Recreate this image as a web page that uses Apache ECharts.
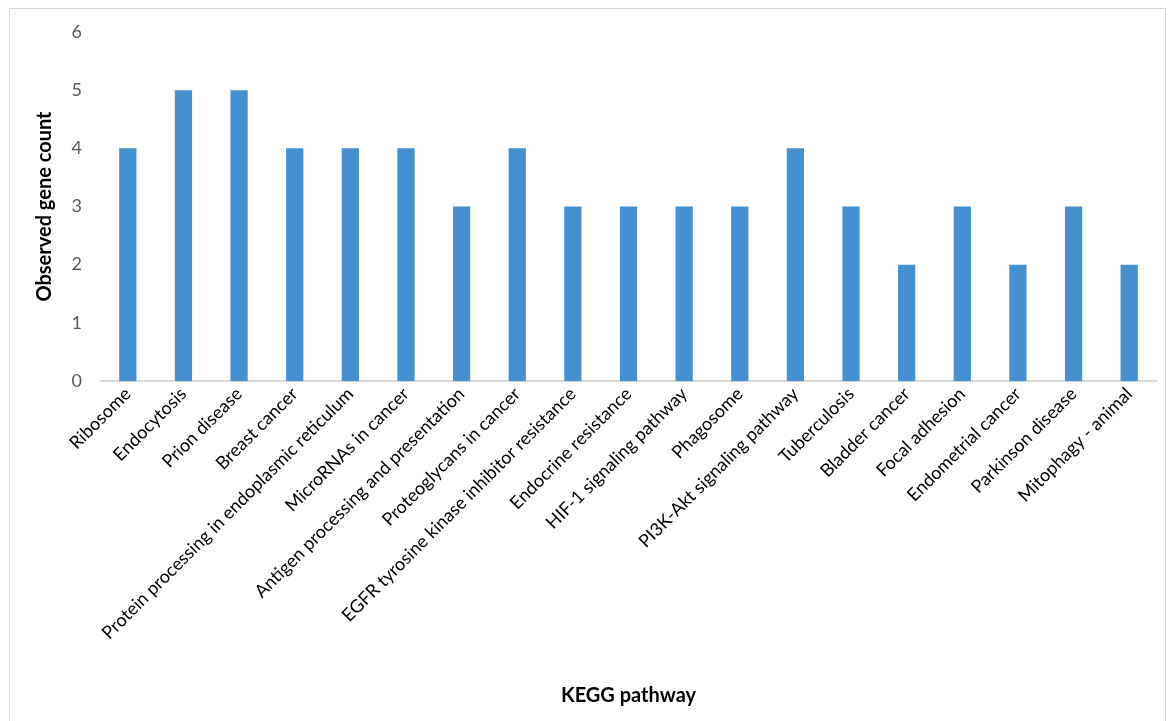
<!DOCTYPE html>
<html>
<head>
<meta charset="utf-8">
<script src="https://cdn.jsdelivr.net/npm/echarts@6/dist/echarts.min.js"></script>
<style>
  html, body { margin: 0; padding: 0; background: #fff; }
  #frame {
    position: absolute; left: 9px; top: 8px; width: 1157px; height: 720px;
    border: 1px solid #d9d9d9; box-sizing: border-box;
  }
  #chart { position: absolute; left: 0; top: 0; width: 1170px; height: 721px; }
</style>
</head>
<body>
<div id="frame"></div>
<div id="chart"></div>
<script>
// KEGG pathways and observed gene counts
const pathways = [
    'Ribosome', 'Endocytosis', 'Prion disease', 'Breast cancer',
    'Protein processing in endoplasmic reticulum', 'MicroRNAs in cancer',
    'Antigen processing and presentation', 'Proteoglycans in cancer',
    'EGFR tyrosine kinase inhibitor resistance', 'Endocrine resistance',
    'HIF-1 signaling pathway', 'Phagosome', 'PI3K-Akt signaling pathway',
    'Tuberculosis', 'Bladder cancer', 'Focal adhesion', 'Endometrial cancer',
    'Parkinson disease', 'Mitophagy - animal'
];
const geneCounts = [4, 5, 5, 4, 4, 4, 3, 4, 3, 3, 3, 3, 4, 3, 2, 3, 2, 3, 2];

const font = 'Lato, "Open Sans", sans-serif';

const chart = echarts.init(document.getElementById('chart'), null, { renderer: 'canvas' });

chart.setOption({
    animation: false,
    grid: { left: 100, right: 13, top: 32, bottom: 340, containLabel: false },
    xAxis: {
        type: 'category',
        data: pathways,
        name: 'KEGG pathway',
        nameLocation: 'middle',
        nameGap: 305,
        nameTextStyle: { color: '#000', fontSize: 20, fontWeight: 'bold', fontFamily: font },
        axisLine: { lineStyle: { color: '#d9d9d9', width: 2 } },
        axisTick: { show: false },
        axisLabel: {
            interval: 0,
            rotate: 45,
            margin: 10,
            color: '#000',
            fontSize: 18,
            fontFamily: font
        }
    },
    yAxis: {
        type: 'value',
        min: 0,
        max: 6,
        interval: 1,
        name: 'Observed gene count',
        nameLocation: 'middle',
        nameGap: 45,
        nameTextStyle: { color: '#000', fontSize: 20, fontWeight: 'bold', fontFamily: font },
        axisLine: { show: false },
        axisTick: { show: false },
        splitLine: { show: false },
        axisLabel: { color: '#595959', fontSize: 18, fontFamily: font, margin: 18 }
    },
    series: [{
        type: 'bar',
        data: geneCounts,
        barWidth: '31%',
        itemStyle: { color: '#4590d0' }
    }]
});
</script>
</body>
</html>
